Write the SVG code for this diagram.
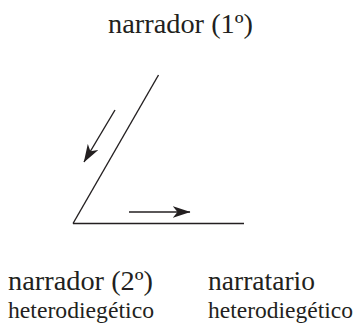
<svg xmlns="http://www.w3.org/2000/svg" width="358" height="326" viewBox="0 0 358 326">
<style>
text{font-family:'Liberation Serif','Times New Roman',Times,serif;fill:#231f20}
.big{font-size:27px}
.sm{font-size:23.5px}
.ln{stroke:#231f20;stroke-width:1.4;fill:none}
</style>
<defs>
<marker id="ah" viewBox="0 0 18 12" refX="17.5" refY="6" markerWidth="18" markerHeight="12" markerUnits="userSpaceOnUse" orient="auto">
<path d="M0,0 L18,6 L0,12 L5,6 Z" fill="#231f20"/>
</marker>
</defs>
<g id="connectors">
<line class="ln" x1="158.5" y1="75" x2="73" y2="223.5"/>
<line class="ln" x1="73" y1="223.5" x2="244" y2="223.5"/>
<line class="ln" x1="115" y1="110" x2="84" y2="162" marker-end="url(#ah)"/>
<line class="ln" x1="129" y1="212" x2="190" y2="212" marker-end="url(#ah)"/>
</g>
<g id="narrador1"><text class="big" x="108" y="33" textLength="145" lengthAdjust="spacingAndGlyphs">narrador (1º)</text></g>
<g id="narrador2"><text class="big" x="8" y="290" textLength="145" lengthAdjust="spacingAndGlyphs">narrador (2º)</text><text class="sm" x="8" y="318" textLength="146" lengthAdjust="spacingAndGlyphs">heterodiegético</text></g>
<g id="narratario"><text class="big" x="208" y="290" textLength="107" lengthAdjust="spacingAndGlyphs">narratario</text><text class="sm" x="208" y="318" textLength="145" lengthAdjust="spacingAndGlyphs">heterodiegético</text></g>
</svg>
